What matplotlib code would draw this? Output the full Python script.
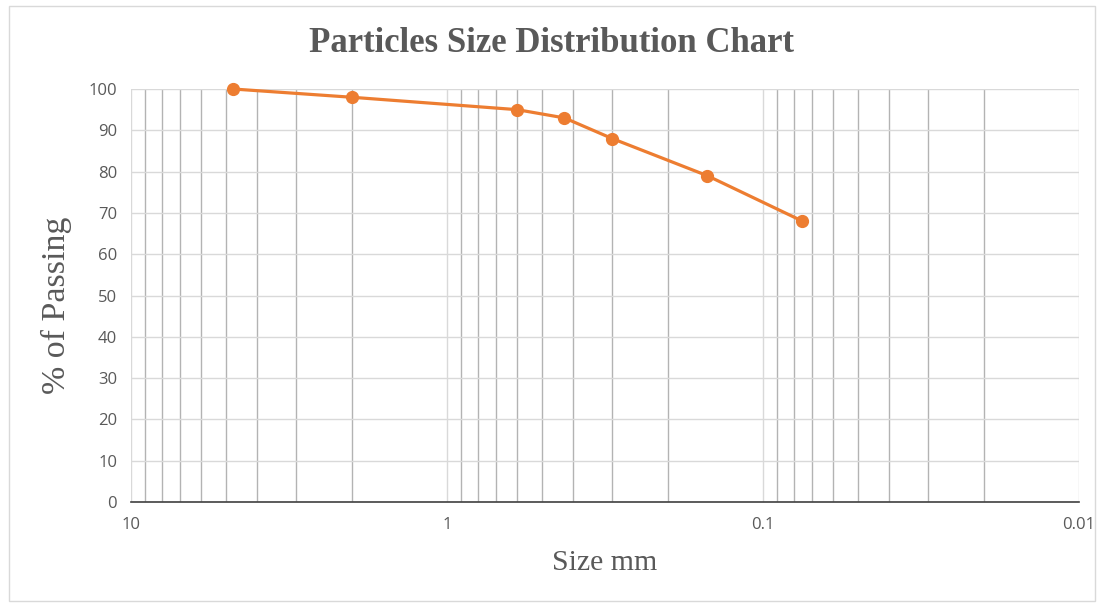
import numpy as np
import matplotlib.pyplot as plt
from matplotlib.ticker import FixedLocator, LogLocator, NullFormatter
from matplotlib.patches import Rectangle

# Sieve sizes (mm) and percent passing
sizes = [4.75, 2.0, 0.6, 0.425, 0.3, 0.15, 0.075]
passing = [100, 98, 95, 93, 88, 79, 68]

x_ticks = [10, 1, 0.1, 0.01]
x_tick_labels = ["10", "1", "0.1", "0.01"]
y_ticks = list(range(0, 101, 10))

orange = "#ED7D31"
text_grey = "#595959"
serif = ["Liberation Serif", "DejaVu Serif"]
plt.rcParams["font.family"] = ["Open Sans", "DejaVu Sans"]

fig = plt.figure(figsize=(11.03, 6.05), dpi=100)
ax = fig.add_axes([131 / 1103, 1 - 502 / 605, (1079 - 131) / 1103, (502 - 89) / 605])

ax.set_xscale("log")
ax.set_xlim(10, 0.01)
ax.set_ylim(0, 100)

# gridlines: minor darker, major lighter (as in the Excel chart)
ax.xaxis.set_major_locator(FixedLocator(x_ticks))
ax.xaxis.set_minor_locator(LogLocator(base=10, subs=np.arange(2, 10)))
ax.xaxis.set_minor_formatter(NullFormatter())
ax.set_xticks(x_ticks)
ax.set_xticklabels(x_tick_labels)
ax.set_yticks(y_ticks)

ax.grid(True, which="major", axis="both", color="#d9d9d9", linewidth=1.0)
ax.grid(True, which="minor", axis="x", color="#b3b3b3", linewidth=1.0)
ax.set_axisbelow(True)

for side in ["top", "right", "left"]:
    ax.spines[side].set_visible(False)
ax.spines["bottom"].set_color("#404040")
ax.spines["bottom"].set_linewidth(1.2)

ax.tick_params(axis="both", which="both", length=0, colors=text_grey, labelsize=12)
ax.tick_params(axis="x", pad=11)
ax.tick_params(axis="y", pad=10)

ax.plot(sizes, passing, color=orange, linewidth=2.3, marker="o", markersize=8.5,
        markerfacecolor=orange, markeredgecolor=orange, zorder=3, clip_on=False)

fig.text(0.5, 1 - 43 / 605, "Particles Size Distribution Chart", ha="center", va="center",
         fontsize=25, fontweight="bold", color=text_grey, family=serif)
ax.set_xlabel("Size mm", fontsize=21.5, color=text_grey, family=serif, labelpad=12)
ax.set_ylabel("% of Passing", fontsize=24.5, color=text_grey, family=serif)
ax.yaxis.set_label_coords((72 - 131) / 948, 1 - (305 - 89) / 413)

# outer chart border
fig.patches.append(Rectangle((9 / 1103, 4 / 605), 1086 / 1103, 595 / 605,
                             transform=fig.transFigure, fill=False,
                             edgecolor="#d9d9d9", linewidth=1.0))

fig.savefig("out.png", dpi=100)
